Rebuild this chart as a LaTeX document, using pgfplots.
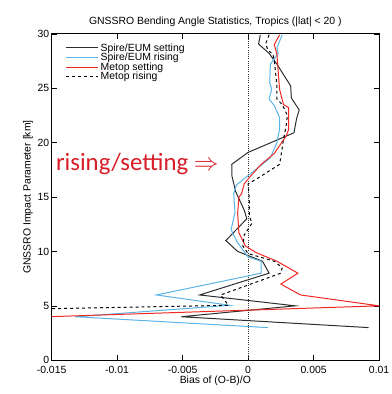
\documentclass[border=0pt]{standalone}
\usepackage{pgfplots}
\pgfplotsset{compat=1.18}
\usepackage{fontspec}
\setmainfont{Liberation Sans}
\newfontfamily\calibri{Carlito}

\definecolor{spireset}{RGB}{45,45,45}
\definecolor{spirerise}{RGB}{90,180,230}
\definecolor{metopset}{RGB}{238,40,35}
\definecolor{annot}{RGB}{215,30,40}

\begin{document}
\begin{tikzpicture}
\useasboundingbox (-52pt,-34pt) rectangle (342pt,363pt);
\begin{axis}[
  scale only axis,
  width=330pt, height=329pt,
  xmin=-0.015, xmax=0.01,
  ymin=0, ymax=30,
  scaled x ticks=false,
  xtick={-0.015,-0.01,-0.005,0,0.005,0.01},
  xticklabels={-0.015,-0.01,-0.005,0,0.005,0.01},
  ytick={0,5,10,15,20,25,30},
  yticklabels={0,5,10,15,20,25,30},
  tick label style={font=\fontsize{10.5}{12}\selectfont},
  xticklabel style={yshift=-2pt},
  yticklabel style={xshift=1pt},
  tick style={black, thin},
  major tick length=5pt,
  axis line style={black, line width=0.8pt},
  title={GNSSRO Bending Angle Statistics, Tropics (|lat| < 20 )},
  title style={font=\fontsize{10.5}{12}\selectfont, yshift=-2pt},
  xlabel={Bias of (O-B)/O},
  ylabel={GNSSRO Impact Parameter [km]},
  label style={font=\fontsize{10.5}{12}\selectfont},
  xlabel style={yshift=4pt},
  ylabel style={yshift=-2pt},
  legend style={at={(0.04,0.98)}, anchor=north west, draw=none, fill=none,
    font=\fontsize{10.5}{11}\selectfont, row sep=-3.5pt, inner sep=1pt,
    cells={anchor=west}},
  legend image code/.code={\draw[#1] (0pt,0pt) -- (32pt,0pt);},
  every axis plot/.append style={line width=1pt},
]
% zero-bias reference line
\addplot[forget plot, black!80, line width=0.4pt, dash pattern=on 0.6pt off 1.6pt] coordinates {(0,0) (0,30)};

% Spire/EUM setting
\addplot[spireset] coordinates {
 (0.00093,29.9) (0.0008,29.05) (0.0016,28.2) (0.0022,27.2) (0.00325,25.2)
 (0.0033,24.1) (0.0039,23.0) (0.0037,22.2) (0.0035,20.9) (0.0000,19.1)
 (-0.00125,18.0) (-0.00123,16.9) (-0.00095,15.5) (-0.0003,13.8) (-0.0001,13.0)
 (-0.0017,11.0) (-0.0008,10.0) (0.0011,9.1) (0.0016,8.0) (-0.0037,6.0)
 (0.0036,5.0) (-0.0051,4.0) (0.0092,3.0)};
\addlegendentry{Spire/EUM setting}

% Spire/EUM rising
\addplot[spirerise] coordinates {
 (0.0026,29.9) (0.0022,28.7) (0.0023,28.2) (0.0017,27.2) (0.00165,25.5)
 (0.0018,24.9) (0.0016,24.0) (0.0020,23.4) (0.0024,22.3) (0.0024,21.2)
 (0.0022,20.0) (0.0017,18.6) (-0.0009,16.1) (-0.0011,15.3) (-0.0010,13.6)
 (-0.0013,12.0) (-0.0011,11.5) (-0.0008,10.8) (0.0000,9.5) (0.0010,9.1)
 (0.0010,8.0) (-0.0070,6.0) (-0.0014,5.05) (-0.0132,4.0) (0.0015,3.0)};
\addlegendentry{Spire/EUM rising}

% Metop setting
\addplot[metopset] coordinates {
 (0.0024,29.9) (0.0020,29.0) (0.0022,28.1) (0.0024,24.9) (0.0027,23.5)
 (0.0031,23.2) (0.0031,21.2) (0.0029,20.6) (0.0020,19.0) (0.0010,18.0)
 (0.0001,16.8) (-0.0003,16.2) (-0.0005,15.3) (-0.0007,15.0) (-0.0008,13.5)
 (-0.0007,11.7) (-0.0002,10.5) (0.0006,9.9) (0.0022,9.1) (0.0038,8.0)
 (0.0025,7.0) (0.0040,6.0) (0.0100,5.0) (-0.0152,4.0)};
\addlegendentry{Metop setting}

% Metop rising
\addplot[black, dash pattern=on 3pt off 3pt] coordinates {
 (0.0016,29.9) (0.00135,29.1) (0.0015,28.5) (0.0019,28.1) (0.0020,27.5)
 (0.0021,26.4) (0.0022,25.2) (0.0022,24.0) (0.0026,23.5) (0.0030,22.5)
 (0.0029,21.5) (0.0027,20.3) (0.0025,18.7) (0.0024,18.0) (0.0007,16.7)
 (0.0000,16.2) (0.0001,14.7) (0.0001,13.2) (0.0003,12.6) (-0.0003,11.5)
 (-0.0004,10.5) (0.0000,9.8) (0.0020,9.1) (0.0026,8.5) (0.0025,8.0)
 (-0.0021,6.0) (-0.0015,5.05) (-0.047,4.0)};
\addlegendentry{Metop rising}

\node[anchor=west, text=annot, font=\calibri\fontsize{25}{28}\selectfont, inner sep=0pt]
  at (axis cs:-0.01468,18.0) {rising/setting $\Rightarrow$};
\end{axis}
\end{tikzpicture}
\end{document}
